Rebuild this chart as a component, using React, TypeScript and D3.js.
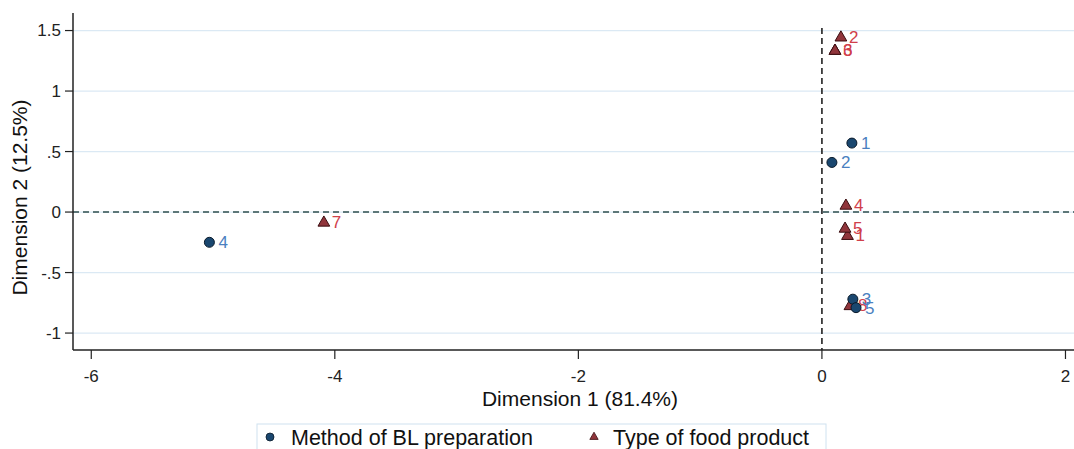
import React from "react";
import * as d3 from "d3";

// Method of BL preparation (circles)
const methodIds = ["1", "2", "3", "4", "5"];
const methodDim1 = [0.246, 0.082, 0.254, -5.03, 0.28];
const methodDim2 = [0.57, 0.41, -0.72, -0.25, -0.79];

// Type of food product (triangles)
const typeIds = ["1", "2", "3", "4", "5", "6", "7", "8"];
const typeDim1 = [0.21, 0.156, 0.107, 0.197, 0.19, 0.107, -4.09, 0.23];
const typeDim2 = [-0.19, 1.45, 1.34, 0.06, -0.13, 1.34, -0.08, -0.77];

const xTicks = [-6, -4, -2, 0, 2];
const yTicks = [-1, -0.5, 0, 0.5, 1, 1.5];
const yTickLabels = ["-1", "-.5", "0", ".5", "1", "1.5"];

const W = 1074;
const H = 449;
const margin = { top: 13, right: 0, bottom: 99, left: 73 };

const font = "'Liberation Sans', Arial, sans-serif";
const circleFill = "#1a476f";
const triFill = "#90353b";
const blueLabel = "#4a7fc0";
const redLabel = "#d0404a";

const App = () => {
  const x = d3
    .scaleLinear()
    .domain([-6.15, 2.07])
    .range([margin.left, W - margin.right]);
  const y = d3
    .scaleLinear()
    .domain([-1.14, 1.645])
    .range([H - margin.bottom, margin.top]);

  const tri = d3.symbol().type(d3.symbolTriangle).size(60);
  const bottomY = H - margin.bottom;

  return (
    <svg
      width={W}
      height={H}
      style={{ position: "absolute", left: 0, top: 0, background: "#fff" }}
      fontFamily={font}
    >
      {/* grid */}
      {yTicks.map((t) => (
        <line
          key={"g" + t}
          x1={margin.left}
          x2={W - margin.right}
          y1={y(t)}
          y2={y(t)}
          stroke="#dbe9f4"
          strokeWidth={1.2}
        />
      ))}
      {/* reference lines */}
      <line
        x1={margin.left}
        x2={W - margin.right}
        y1={y(0)}
        y2={y(0)}
        stroke="#2f4f4f"
        strokeWidth={1.6}
        strokeDasharray="6,4"
      />
      <line
        x1={x(0)}
        x2={x(0)}
        y1={margin.top + 15}
        y2={bottomY}
        stroke="#222"
        strokeWidth={1.6}
        strokeDasharray="6,4"
      />
      {/* axes */}
      <line x1={margin.left} x2={margin.left} y1={margin.top} y2={bottomY} stroke="#222" strokeWidth={1.5} />
      <line x1={margin.left} x2={W - margin.right} y1={bottomY} y2={bottomY} stroke="#222" strokeWidth={1.5} />
      {yTicks.map((t, i) => (
        <g key={"yt" + t}>
          <line x1={margin.left - 8} x2={margin.left} y1={y(t)} y2={y(t)} stroke="#222" strokeWidth={1.2} />
          <text x={margin.left - 12} y={y(t)} dy="0.35em" textAnchor="end" fontSize={17} fill="#222">
            {yTickLabels[i]}
          </text>
        </g>
      ))}
      {xTicks.map((t) => (
        <g key={"xt" + t}>
          <line x1={x(t)} x2={x(t)} y1={bottomY} y2={bottomY + 9} stroke="#222" strokeWidth={1.2} />
          <text x={x(t)} y={bottomY + 26} dy="0.35em" textAnchor="middle" fontSize={17} fill="#222">
            {t}
          </text>
        </g>
      ))}
      <text
        transform={`translate(20,${(margin.top + bottomY) / 2 + 16}) rotate(-90)`}
        textAnchor="middle"
        dy="0.35em"
        fontSize={21}
        fill="#111"
      >
        Dimension 2 (12.5%)
      </text>
      <text x={580} y={399} dy="0.35em" textAnchor="middle" fontSize={21} fill="#111">
        Dimension 1 (81.4%)
      </text>

      {/* triangles */}
      {typeIds.map((id, i) => (
        <g key={"t" + id}>
          <path
            d={tri() as string}
            transform={`translate(${x(typeDim1[i])},${y(typeDim2[i]) + 1})`}
            fill={triFill}
            stroke="#3a0d10"
            strokeWidth={1}
          />
          <text
            x={x(typeDim1[i]) + 8}
            y={y(typeDim2[i])}
            dy="0.35em"
            fontSize={17}
            fill={redLabel}
          >
            {id}
          </text>
        </g>
      ))}
      {/* circles */}
      {methodIds.map((id, i) => (
        <g key={"m" + id}>
          <circle
            cx={x(methodDim1[i])}
            cy={y(methodDim2[i])}
            r={5}
            fill={circleFill}
            stroke="#0a1a2a"
            strokeWidth={1}
          />
          <text
            x={x(methodDim1[i]) + 9}
            y={y(methodDim2[i])}
            dy="0.35em"
            fontSize={17}
            fill={blueLabel}
          >
            {id}
          </text>
        </g>
      ))}

      {/* legend */}
      <rect x={257} y={424} width={569} height={30} fill="#fff" stroke="#cfe2f0" strokeWidth={1} />
      <circle cx={270} cy={437} r={4} fill={circleFill} stroke="#0a1a2a" strokeWidth={0.8} />
      <text x={291} y={437} dy="0.35em" fontSize={21.5} fill="#111">
        Method of BL preparation
      </text>
      <path
        d={d3.symbol().type(d3.symbolTriangle).size(30)() as string}
        transform="translate(594,437)"
        fill={triFill}
        stroke="#3a0d10"
        strokeWidth={0.8}
      />
      <text x={613} y={437} dy="0.35em" fontSize={21.5} fill="#111">
        Type of food product
      </text>
    </svg>
  );
};

export default App;
